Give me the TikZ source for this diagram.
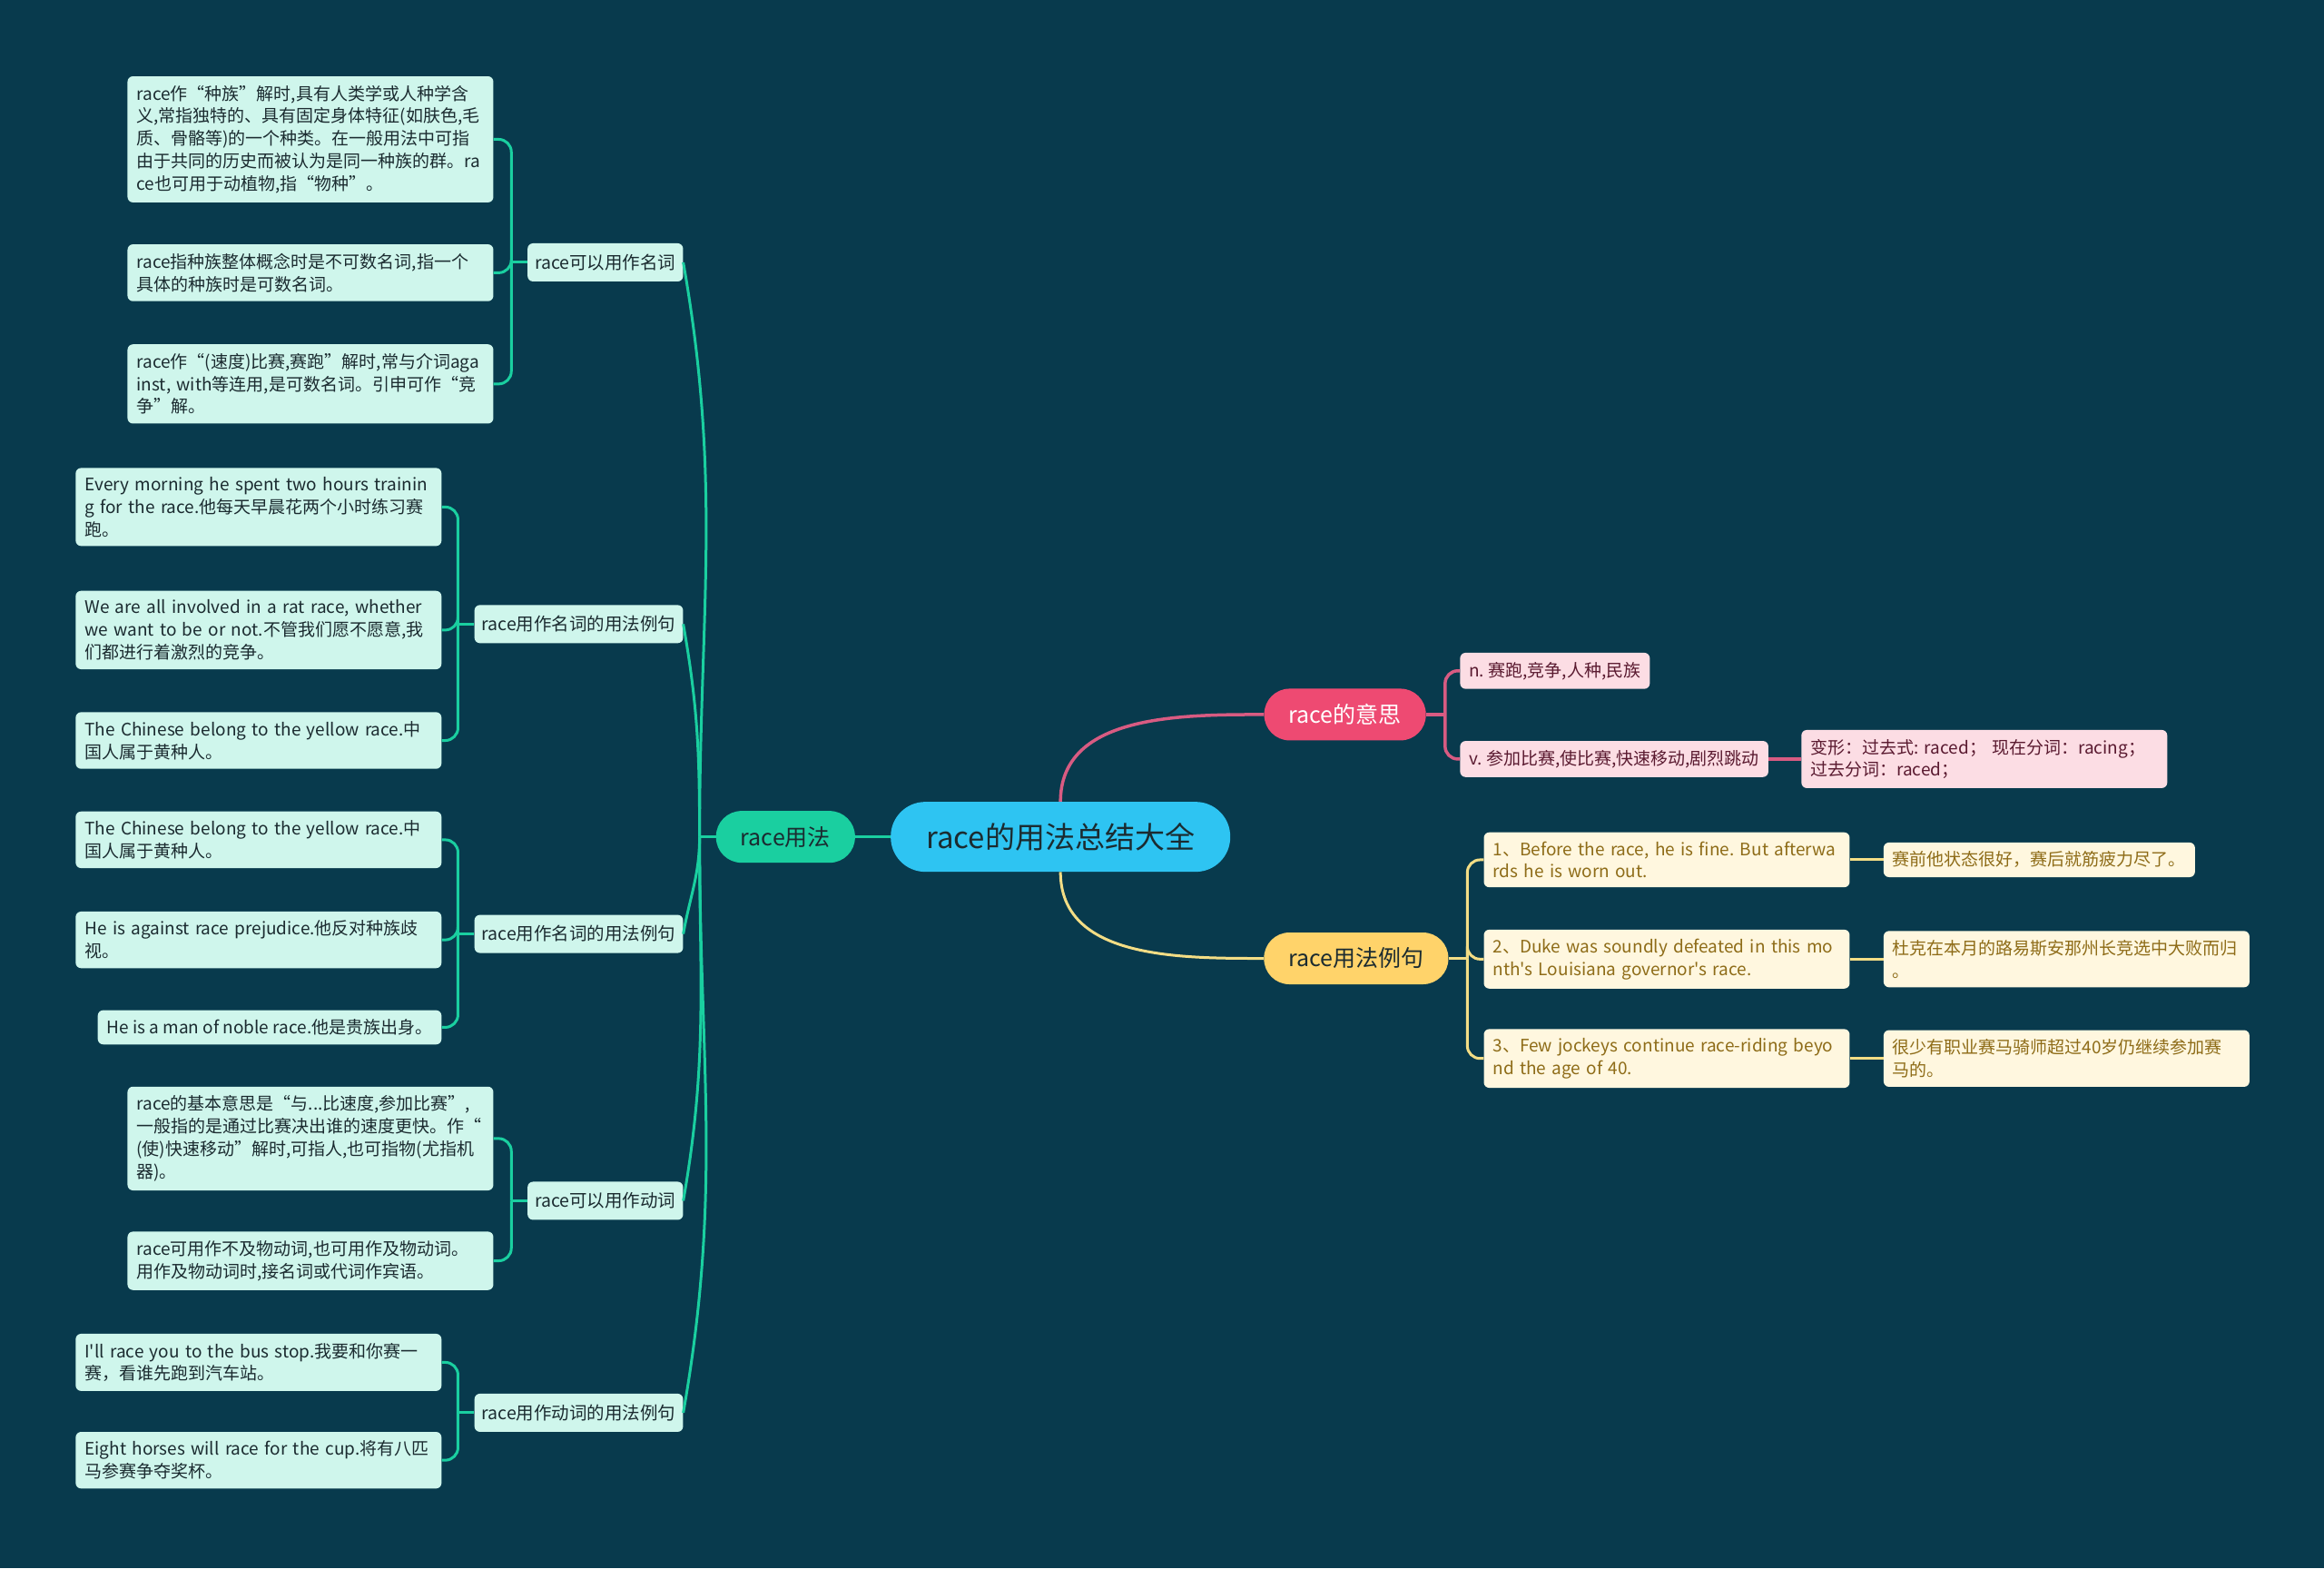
\documentclass[tikz,border=0pt]{standalone}
\usepackage{fontspec}
\setmainfont{Noto Sans CJK SC}[Ligatures=TeXOff]
\usepackage{tikz}
\usetikzlibrary{positioning}
\frenchspacing

\definecolor{bg}{HTML}{083A4D}
\definecolor{rootcyan}{HTML}{2EC4F2}
\definecolor{usegreen}{HTML}{1ACFA0}
\definecolor{mint}{HTML}{CFF6EC}
\definecolor{meanpink}{HTML}{EE4A72}
\definecolor{pinkline}{HTML}{D85B82}
\definecolor{blush}{HTML}{FCDDE4}
\definecolor{blushtext}{HTML}{5A1A30}
\definecolor{examyellow}{HTML}{FFD36A}
\definecolor{yellowline}{HTML}{F3DD85}
\definecolor{cream}{HTML}{FFF7DF}
\definecolor{creamtext}{HTML}{8E6C18}
\definecolor{inkdark}{HTML}{1B2B30}

\newcommand{\rootsize}{\fontsize{33}{40}\selectfont}
\newcommand{\mainsize}{\fontsize{25}{30}\selectfont}
\newcommand{\topicsize}{\fontsize{19.5}{24}\selectfont}
\newcommand{\leafsize}{\fontsize{19}{24.8}\selectfont}

\begin{document}
\begin{tikzpicture}[
        x=1.6327pt, y=-1.6327pt,
        every node/.style={inner sep=0pt},
        root/.style={rectangle, rounded corners=38pt, fill=rootcyan, text=inkdark, font=\rootsize, minimum width=374pt, minimum height=77pt},
        main/.style={rectangle, rounded corners=28pt, minimum height=57pt, inner xsep=27pt, font=\mainsize},
        topic/.style={rectangle, rounded corners=6pt, fill=mint, text=inkdark, font=\topicsize, minimum height=42pt, inner xsep=8pt},
        leaf/.style={rectangle, rounded corners=6pt, fill=mint, text=inkdark, font=\leafsize, align=left, inner xsep=10pt, inner ysep=10pt},
        wide/.style={text width=383pt},
        pinkleaf/.style={leaf, fill=blush, text=blushtext},
        creamleaf/.style={leaf, fill=cream, text=creamtext},
        greenline/.style={draw=usegreen, line width=3pt},
        pinkarc/.style={draw=pinkline, line width=3.5pt},
        yellowarc/.style={draw=yellowline, line width=3pt},
        bracket/.style={rounded corners=14pt}
    ]
        \fill[bg] (0,0) rectangle (1568,1058);
        \useasboundingbox (0,0) rectangle (1568,1058);

        % centre and main branches
        \node[root] (root) at (715.5,564.5) {race的用法总结大全};
        \node[main, fill=usegreen, text=inkdark] (use) at (530,564.5) {race用法};
        \node[main, fill=meanpink, text=white] (mean) at (907.5,482) {race的意思};
        \node[main, fill=examyellow, text=inkdark] (exam) at (915,646.5) {race用法例句};

        % left topics
        \node[topic, anchor=east] (na) at (461,177) {race可以用作名词};
        \node[topic, anchor=east] (nb) at (461,421) {race用作名词的用法例句};
        \node[topic, anchor=east] (nc) at (461,630) {race用作名词的用法例句};
        \node[topic, anchor=east] (nd) at (461,810) {race可以用作动词};
        \node[topic, anchor=east] (ne) at (461,953) {race用作动词的用法例句};

        % leaves of na
        \node[leaf, wide, anchor=east] (a1) at (333,94) {race作“种族”解时,具有人类学或人种学含\\义,常指独特的、具有固定身体特征(如肤色,毛\\质、骨骼等)的一个种类。在一般用法中可指\\由于共同的历史而被认为是同一种族的群。ra\\ce也可用于动植物,指“物种”。};
        \node[leaf, wide, anchor=east] (a2) at (333,184) {race指种族整体概念时是不可数名词,指一个\\具体的种族时是可数名词。};
        \node[leaf, wide, anchor=east] (a3) at (333,259) {race作“(速度)比赛,赛跑”解时,常与介词aga\\inst, with等连用,是可数名词。引申可作“竞\\争”解。};

        % leaves of nb
        \node[leaf, wide, anchor=east] (b1) at (298,342) {Every morning he spent two hours trainin\\g for the race.他每天早晨花两个小时练习赛\\跑。};
        \node[leaf, wide, anchor=east] (b2) at (298,425) {We are all involved in a rat race, whether\\we want to be or not.不管我们愿不愿意,我\\们都进行着激烈的竞争。};
        \node[leaf, wide, anchor=east] (b3) at (298,499.5) {The Chinese belong to the yellow race.中\\国人属于黄种人。};

        % leaves of nc
        \node[leaf, wide, anchor=east] (c1) at (298,566.5) {The Chinese belong to the yellow race.中\\国人属于黄种人。};
        \node[leaf, wide, anchor=east] (c2) at (298,634) {He is against race prejudice.他反对种族歧\\视。};
        \node[leaf, anchor=east] (c3) at (298,693) {He is a man of noble race.他是贵族出身。};

        % leaves of nd
        \node[leaf, wide, anchor=east] (d1) at (333,768) {race的基本意思是“与...比速度,参加比赛”,\\一般指的是通过比赛决出谁的速度更快。作“\\(使)快速移动”解时,可指人,也可指物(尤指机\\器)。};
        \node[leaf, wide, anchor=east] (d2) at (333,850.5) {race可用作不及物动词,也可用作及物动词。\\用作及物动词时,接名词或代词作宾语。};

        % leaves of ne
        \node[leaf, wide, anchor=east] (e1) at (298,919) {I'll race you to the bus stop.我要和你赛一\\赛，看谁先跑到汽车站。};
        \node[leaf, wide, anchor=east] (e2) at (298,985) {Eight horses will race for the cup.将有八匹\\马参赛争夺奖杯。};

        % meanings
        \node[pinkleaf, anchor=west] (pn) at (985,452.5) {n. 赛跑,竞争,人种,民族};
        \node[pinkleaf, anchor=west] (pv) at (985,512) {v. 参加比赛,使比赛,快速移动,剧烈跳动};
        \node[pinkleaf, wide, right=36pt of pv] (pform) {变形：过去式: raced；\ 现在分词：racing；\\过去分词：raced；};

        % examples
        \node[creamleaf, wide, anchor=west] (ye1) at (1001,580) {1、Before the race, he is fine. But afterwa\\rds he is worn out.};
        \node[creamleaf, wide, anchor=west] (ye2) at (1001,647) {2、Duke was soundly defeated in this mo\\nth's Louisiana governor's race.};
        \node[creamleaf, wide, anchor=west] (ye3) at (1001,714) {3、Few jockeys continue race-riding beyo\\nd the age of 40.};
        \node[creamleaf, right=37pt of ye1] (yt1) {赛前他状态很好，赛后就筋疲力尽了。};
        \node[creamleaf, wide, right=37pt of ye2] (yt2) {杜克在本月的路易斯安那州长竞选中大败而归\\。};
        \node[creamleaf, wide, right=37pt of ye3] (yt3) {很少有职业赛马骑师超过40岁仍继续参加赛\\马的。};

        % junctions
        \coordinate (juse) at (472,564.5);
        \coordinate (jna) at (345,177);
        \coordinate (jnb) at (309,421);
        \coordinate (jnc) at (309,630);
        \coordinate (jnd) at (345,810);
        \coordinate (jne) at (309,953);
        \coordinate (jmean) at (975,482);
        \coordinate (jexam) at (990,646.5);

        % root links
        \draw[greenline] (root.west) -- (use.east);
        \draw[pinkarc] (root.north) to[out=90, in=180] (mean.west);
        \draw[yellowarc] (root.south) to[out=-90, in=180] (exam.west);

        % race用法 to topics
        \draw[greenline] (use.west) -- (juse);
        \draw[greenline] (juse) to[out=90, in=-80] (na.east);
        \draw[greenline] (juse) to[out=90, in=-80] (nb.east);
        \draw[greenline] (juse) to[out=-90, in=80] (nc.east);
        \draw[greenline] (juse) to[out=-90, in=80] (nd.east);
        \draw[greenline] (juse) to[out=-90, in=80] (ne.east);

        % topics to leaves
        \draw[greenline] (na.west) -- (jna);
        \foreach \n in {a1,a2,a3} \draw[greenline, bracket] (jna) |- (\n.east);
        \draw[greenline] (nb.west) -- (jnb);
        \foreach \n in {b1,b2,b3} \draw[greenline, bracket] (jnb) |- (\n.east);
        \draw[greenline] (nc.west) -- (jnc);
        \foreach \n in {c1,c2,c3} \draw[greenline, bracket] (jnc) |- (\n.east);
        \draw[greenline] (nd.west) -- (jnd);
        \foreach \n in {d1,d2} \draw[greenline, bracket] (jnd) |- (\n.east);
        \draw[greenline] (ne.west) -- (jne);
        \foreach \n in {e1,e2} \draw[greenline, bracket] (jne) |- (\n.east);

        % meanings and examples
        \draw[pinkarc] (mean.east) -- (jmean);
        \foreach \n in {pn,pv} \draw[pinkarc, bracket] (jmean) |- (\n.west);
        \draw[pinkarc] (pv.east) -- (pform.west);
        \draw[yellowarc] (exam.east) -- (jexam);
        \foreach \n in {ye1,ye2,ye3} \draw[yellowarc, bracket] (jexam) |- (\n.west);
        \draw[yellowarc] (ye1.east) -- (yt1.west);
        \draw[yellowarc] (ye2.east) -- (yt2.west);
        \draw[yellowarc] (ye3.east) -- (yt3.west);
    \end{tikzpicture}
\end{document}
